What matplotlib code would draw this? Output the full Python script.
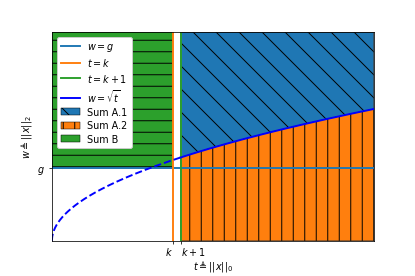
import numpy as np
import matplotlib
matplotlib.use('Agg')
import matplotlib.pyplot as plt

# Values
k = 15          # t = k
g = 3.5         # w = g
t_max = 40      # right end of the t axis
w_max = 10      # top of the w axis

x_ticks = [k, k + 1]
x_tick_labels = ['$k$', '$k+1$']
y_ticks = [g]
y_tick_labels = ['$g$']

t_dash = np.linspace(0, k + 1, 400)
t_solid = np.linspace(k + 1, t_max, 400)

fig, ax = plt.subplots(figsize=(6, 4), dpi=69.2)
fig.subplots_adjust(bottom=0.127)

ax.axhline(g, color='C0', lw=2, label='$w=g$')
ax.axvline(k, color='C1', lw=2, label='$t=k$')
ax.axvline(k + 1, color='C2', lw=2, label='$t=k+1$')
ax.plot(t_solid, np.sqrt(t_solid), 'b-', lw=2, label=r'$w=\sqrt{t}$')
ax.plot(t_dash, np.sqrt(t_dash), 'b--', lw=2)

# Sum A.1: above the curve, right of k+1
ax.fill_between(t_solid, np.sqrt(t_solid), w_max, facecolor='C0',
                edgecolor='k', linewidth=0.5, hatch='\\', label='Sum A.1', zorder=0)
# Sum A.2: below the curve, right of k+1
ax.fill_between(t_solid, 0, np.sqrt(t_solid), facecolor='C1',
                edgecolor='k', linewidth=0.5, hatch='|', label='Sum A.2', zorder=0)
# Sum B: above g, left of k
ax.fill_between([0, k], g, w_max, facecolor='C2',
                edgecolor='k', linewidth=0.5, hatch='-', label='Sum B', zorder=0)

ax.set_xlim(0, t_max)
ax.set_ylim(0, w_max)
ax.set_xticks(x_ticks)
ax.set_xticklabels(x_tick_labels)
ax.get_xticklabels()[0].set_ha('right')
ax.get_xticklabels()[1].set_ha('left')
ax.tick_params(axis='x', pad=1.5)
ax.set_yticks(y_ticks)
ax.set_yticklabels(y_tick_labels)
ax.set_xlabel(r'$t \triangleq ||x||_0$', labelpad=1)
ax.set_ylabel(r'$w \triangleq ||x||_2$')
ax.legend(loc='upper left', framealpha=1, labelspacing=0.35)

plt.savefig('out.png')
